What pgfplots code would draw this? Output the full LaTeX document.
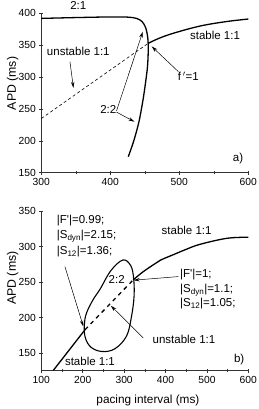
\documentclass[border=0pt]{standalone}
\usepackage{fontspec}
\setmainfont{Liberation Sans}
\usepackage{pgfplots}
\pgfplotsset{compat=1.18}
\usetikzlibrary{arrows.meta}
\tikzset{
  arr/.style={line width=0.5pt, -{Stealth[length=6pt,width=3.4pt]}},
  lab/.style={font=\fontsize{11.5}{13}\selectfont, inner sep=0pt},
}
\pgfplotsset{
  myax/.style={
    scale only axis, width=207pt,
    axis lines*=left,
    axis line style={line width=0.6pt, black!80},
    tick style={line width=0.5pt, black!80},
    tick align=center,
    major tick length=4pt, minor tick length=3pt,
    /pgf/number format/assume math mode=true,
    ticklabel style={font=\fontsize{10.3}{12}\selectfont},
    label style={font=\fontsize{11.5}{13}\selectfont},
    clip=false,
    every axis plot/.append style={line join=round},
  },
}
\begin{document}
\begin{tikzpicture}
% ---------------- panel a ----------------
\begin{axis}[myax,
  at={(41.33pt,236.3pt)}, anchor=south west, height=159.4pt,
  xmin=300, xmax=600, ymin=150, ymax=400,
  xtick={300,400,500,600}, minor xtick={350,450,550},
  ytick={150,200,...,400},
  ylabel={APD (ms)},
  ylabel style={at={(axis description cs:-0.138,0.56)}, anchor=center, font=\fontsize{12.3}{14}\selectfont},
]
% 2:1 and 2:2 branch
\addplot[line width=1.3pt, smooth, tension=0.5] coordinates {
 (300,392) (350,393.3) (400,394.3) (425,394) (438,392) (446,387) (451,378) (454,364)
 (455,345) (454,318) (451.5,295) (447.5,265) (441.5,230) (434,200) (426,175)
};
% stable 1:1
\addplot[line width=1.3pt, smooth, tension=0.6] coordinates {
 (455,353) (470,360.5) (491,368.6) (530,380) (568,387) (600,391)
};
% unstable 1:1
\addplot[line width=0.6pt, dash pattern=on 3pt off 2.5pt] coordinates {
 (300,235) (455,353)
};
\node[lab] at (axis cs:353.6,411.5) {2:1};
\node[lab] at (axis cs:353.6,340) {unstable 1:1};
\draw[arr] (axis cs:341.5,324) -- (axis cs:346.5,283);
\node[lab] at (axis cs:551.7,366) {stable 1:1};
\node[lab] at (axis cs:513,301.7) {f\,$^{\prime}$=1};
\draw[arr] (axis cs:498.6,308.5) -- (axis cs:460,348);
\node[lab] at (axis cs:397,249.4) {2:2};
\draw[arr] (axis cs:409,247) -- (axis cs:447,371);
\draw[arr] (axis cs:409,245) -- (axis cs:435,230);
\node[lab] at (axis cs:585,172) {a)};
\end{axis}
% ---------------- panel b ----------------
\begin{axis}[myax,
  at={(41.33pt,38.3pt)}, anchor=south west, height=159.7pt,
  xmin=100, xmax=600, ymin=125, ymax=350,
  xtick={100,200,...,600}, minor xtick={150,250,...,550},
  ytick={150,200,...,350},
  ylabel={APD (ms)},
  ylabel style={at={(axis description cs:-0.138,0.58)}, anchor=center, font=\fontsize{12.3}{14}\selectfont},
  xlabel={pacing interval (ms)},
  xlabel style={at={(axis description cs:0.515,-0.188)}, anchor=center, font=\fontsize{11.8}{14}\selectfont},
]
% stable 1:1 lower
\addplot[line width=1.3pt] coordinates {(129,125.5) (205.5,182.7)};
% unstable 1:1
\addplot[line width=1.3pt, dash pattern=on 4pt off 4pt] coordinates {(205.5,182.7) (322,253)};
% stable 1:1 upper
\addplot[line width=1.3pt, smooth, tension=0.6] coordinates {
 (322,253) (345,264) (370,274) (387,280.5) (419,288.5) (450,296) (483,303) (548,311.5) (600,313)
};
% 2:2 loop
\addplot[line width=1.1pt, smooth cycle, tension=0.6] coordinates {
 (297,281) (316,273) (323,255) (324,230) (318,202) (306,174) (278,156) (247,152)
 (220,158) (206,172) (204,190) (209,206) (225,225) (242,240) (268,266)
};
\node[lab, anchor=west] at (axis cs:137,337) {|F\textquotesingle|=0.99;};
\node[lab, anchor=west] at (axis cs:137,314.5) {|S\textsubscript{dyn}|=2.15;};
\node[lab, anchor=west] at (axis cs:137,292.5) {|S\textsubscript{12}|=1.36;};
\draw[arr] (axis cs:157,271.7) -- (axis cs:201.4,187.4);
\node[lab] at (axis cs:451,323.3) {stable 1:1};
\node[lab, anchor=west] at (axis cs:434.8,260) {|F\textquotesingle|=1;};
\node[lab, anchor=west] at (axis cs:434.8,239) {|S\textsubscript{dyn}|=1.1;};
\node[lab, anchor=west] at (axis cs:434.8,219.5) {|S\textsubscript{12}|=1.05;};
\draw[arr] (axis cs:431,257.6) -- (axis cs:323,252.5);
\node[lab] at (axis cs:444.6,168.7) {unstable 1:1};
\draw[arr] (axis cs:346.3,171) -- (axis cs:268,216.5);
\node[lab] at (axis cs:282,253) {2:2};
\node[lab] at (axis cs:217.5,138) {stable 1:1};
\node[lab] at (axis cs:578,140.6) {b)};
\end{axis}
\pgfresetboundingbox
\path[use as bounding box] (0pt,0pt) rectangle (259pt,409pt);
\end{tikzpicture}
\end{document}
